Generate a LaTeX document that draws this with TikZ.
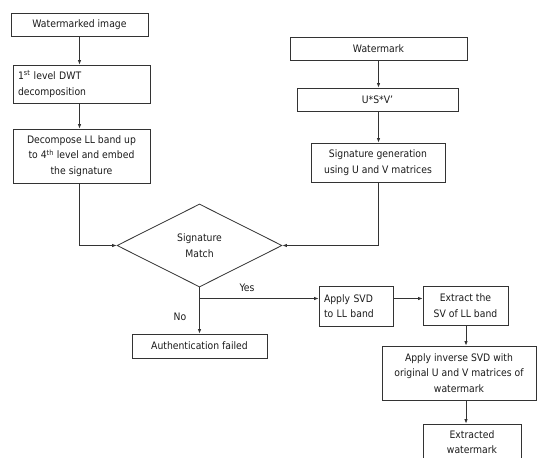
\documentclass[tikz,border=0pt]{standalone}
\usepackage{fontspec}
\setmainfont{DejaVu Sans Condensed}
\usetikzlibrary{shapes.geometric,arrows.meta}
\definecolor{ln}{HTML}{333333}
\definecolor{tx}{HTML}{1a1a1a}
\begin{document}
\begin{tikzpicture}[x=1pt,y=-1pt,
  box/.style={draw=ln,line width=0.8pt,rectangle,inner sep=0pt,align=center,text=tx,font=\fontsize{10.3}{15.5}\selectfont},
  arr/.style={draw=ln,line width=0.8pt,-{Latex[length=4.5pt,width=3.5pt]}},
  lbl/.style={text=tx,font=\fontsize{10.3}{15.5}\selectfont,inner sep=0pt}]
\useasboundingbox (0,0) rectangle (537,457);
\clip (0,0) rectangle (537,457);
\node[box,minimum width=137pt,minimum height=23pt] (wimg) at (79.5,24.5) {Watermarked image};
\node[box,minimum width=137pt,minimum height=38pt,text width=127pt,align=left] (dwt) at (81.5,84) {1\textsuperscript{st} level DWT\\decomposition};
\node[box,minimum width=137pt,minimum height=54pt] (dec) at (81.5,156) {Decompose LL band up\\to 4\textsuperscript{th} level and embed\\the signature};
\node[box,minimum width=177pt,minimum height=23pt] (wm) at (378.5,48.5) {Watermark};
\node[box,minimum width=161pt,minimum height=23pt] (usv) at (377.5,99.5) {U*S*V’};
\node[box,minimum width=134pt,minimum height=39pt] (sig) at (378,162.5) {Signature generation\\using U and V matrices};
\node[diamond,draw=ln,line width=0.8pt,aspect=2,minimum width=165pt,minimum height=83pt,inner sep=0pt,align=center,text=tx,font=\fontsize{10.3}{15.5}\selectfont] (dia) at (199.5,245.5) {Signature\\Match};
\node[box,minimum width=135pt,minimum height=24pt] (auth) at (199.5,346) {Authentication failed};
\node[box,minimum width=74pt,minimum height=40pt,text width=64pt,align=left] (svd) at (356,306) {Apply SVD\\to LL band};
\node[box,minimum width=85pt,minimum height=39pt] (ext) at (465.5,305.5) {Extract the\\SV of LL band};
\node[box,minimum width=154pt,minimum height=54pt] (inv) at (459,373) {Apply inverse SVD with\\original U and V matrices of\\watermark};
\node[box,minimum width=98pt,minimum height=36pt] (exw) at (472,442) {Extracted\\watermark};
\coordinate (yesj) at (199.5,298.5);
\draw[arr] (wimg.south) -- (wimg.south |- dwt.north);
\draw[arr] (dwt.south -| wimg.south) -- (wimg.south |- dec.north);
\draw[arr] (dec.south -| wimg.south) |- (dia.west);
\draw[arr] (wm.south) -- (wm.south |- usv.north);
\draw[arr] (usv.south -| wm.south) -- (wm.south |- sig.north);
\draw[arr] (sig.south -| wm.south) |- (dia.east);
\draw[arr] (dia.south) -- (auth.north);
\draw[arr] (yesj) -- (yesj -| svd.west);
\draw[arr] (yesj -| svd.east) -- (yesj -| ext.west);
\draw[arr] (ext.south -| 466,0) -- (inv.north -| 466,0);
\draw[arr] (inv.south -| 466,0) -- (exw.north -| 466,0);
\node[lbl] (yes) at (247,288) {Yes};
\node[lbl] (no) at (180,317) {No};
\end{tikzpicture}
\end{document}
